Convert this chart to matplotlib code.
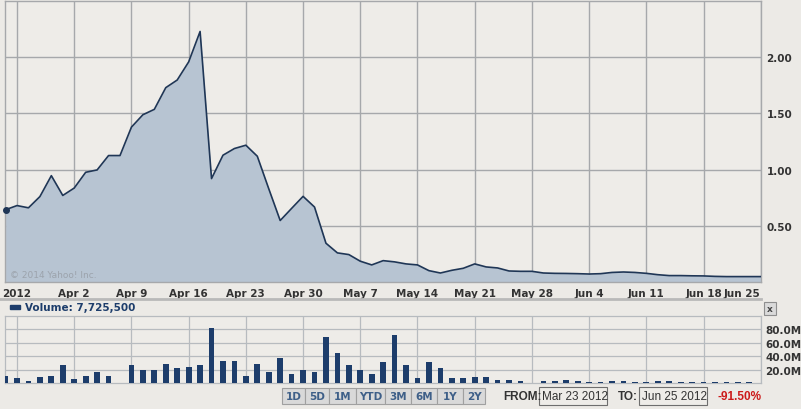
import numpy as np
import matplotlib.pyplot as plt
from matplotlib.patches import Rectangle
from matplotlib.lines import Line2D

# trading-day slots from Mar 23 2012 to Jun 25 2012
tick_pos = [1, 6, 11, 16, 21, 26, 31, 36, 41, 46, 51, 56, 61, 66]
tick_labels = ['2012', 'Apr 2', 'Apr 9', 'Apr 16', 'Apr 23', 'Apr 30', 'May 7',
               'May 14', 'May 21', 'May 28', 'Jun 4', 'Jun 11', 'Jun 18', 'Jun 25']

price = [0.643, 0.68, 0.66, 0.76, 0.946, 0.77, 0.836, 0.976, 0.997, 1.125,
         1.125, 1.378, 1.488, 1.536, 1.729, 1.797, 1.958, 2.229, 0.92, 1.128,
         1.1875, 1.217, 1.119, 0.83, 0.547, 0.655, 0.762, 0.667, 0.345, 0.259,
         0.244, 0.185, 0.152, 0.19, 0.179, 0.161, 0.152, 0.101, 0.080, 0.104,
         0.122, 0.161, 0.134, 0.125, 0.098, 0.095, 0.095, 0.08, 0.077, 0.076,
         0.074, 0.071, 0.074, 0.085, 0.089, 0.085, 0.077, 0.065, 0.057, 0.057,
         0.055, 0.054, 0.05, 0.048, 0.048, 0.048, 0.048]

# volume in millions (nan = market closed / no bar)
volume = [11, 8, 3.5, 9.5, 11, 27.5, 6.5, 11, 17, 11,
          np.nan, 27.5, 19, 19, 28.5, 23, 24.5, 27.5, 81.5, 33.5,
          33.5, 11, 28.5, 17, 38, 14, 19, 17, 68, 45.5,
          27.5, 19, 14, 32, 71, 27.5, 8, 32, 23, 8,
          8, 9.5, 9.5, 4, 5, 3.5, np.nan, 3.5, 3.5, 5,
          3.5, 1.5, 1.5, 2.5, 2.5, 1.5, 1, 2.5, 3.5, 2,
          1.5, 2, 1.5, 1, 1, 2, np.nan]

price_ticks = [0.5, 1.0, 1.5, 2.0]
vol_ticks = [20, 40, 60, 80]

W, H = 801, 410
bg = '#ECEAE6'
grid_c = '#A6A8AB'
navy = '#1D3D6B'
txt = '#333333'


def fx(px):
    return px / W


def fy(py):
    return 1 - py / H


fig = plt.figure(figsize=(W / 100, H / 100), dpi=100, facecolor=bg)

x = np.arange(len(price))

# price panel
ax = fig.add_axes([fx(5), fy(283), fx(761) - fx(5), fy(2) - fy(283)])
ax.set_facecolor('#EEECE8')
ax.fill_between(x, price, 0, color='#B7C4D2', lw=0, zorder=2)
ax.plot(x, price, color='#1F3656', lw=1.2, zorder=3)
ax.plot(x[0], price[0], 'o', color='#1F3656', ms=4, zorder=4, clip_on=False)
ax.set_xlim(-0.05, 66.02)
ax.set_ylim(0, 2.5)
ax.set_xticks(tick_pos)
ax.set_xticklabels(tick_labels, fontsize=7.5, fontweight='bold', color=txt)
ax.get_xticklabels()[-1].set_ha('right')
ax.get_xticklabels()[-1].set_x(66.02)
ax.yaxis.tick_right()
ax.set_yticks(price_ticks)
ax.set_yticklabels(['%.2f' % v for v in price_ticks], fontsize=7.5,
                   fontweight='bold', color=txt)
ax.tick_params(length=0, pad=4)
ax.grid(True, color=grid_c, lw=1.0, zorder=1)
for s in ax.spines.values():
    s.set_color(grid_c)
    s.set_linewidth(1.0)
ax.text(0.006, 0.018, '\u00a9 2014 Yahoo! Inc.', transform=ax.transAxes,
        fontsize=6.5, color='#9CA3AC', zorder=5)

# separator under the date labels
fig.add_artist(Line2D([0, fx(761)], [fy(300), fy(300)], color='#B9B9B9', lw=2))

# volume panel
vax = fig.add_axes([fx(5), fy(384), fx(761) - fx(5), fy(317) - fy(384)])
vax.set_facecolor('#EEECE8')
vax.bar(x, volume, width=0.5, color=navy, zorder=3)
vax.set_xlim(-0.05, 66.02)
vax.set_ylim(0, 100)
vax.set_xticks(tick_pos)
vax.set_xticklabels([])
vax.yaxis.tick_right()
vax.set_yticks(vol_ticks)
vax.set_yticklabels(['%.1fM' % v for v in vol_ticks], fontsize=7.5,
                    fontweight='bold', color=txt)
vax.tick_params(length=0, pad=3)
vax.grid(True, color='#B7BBBF', lw=0.9, zorder=1)
for s in vax.spines.values():
    s.set_color('#B7BBBF')
    s.set_linewidth(0.9)

# volume legend
fig.add_artist(Rectangle((fx(10), fy(310)), fx(10), 4 / H, color=navy))
fig.text(fx(25), fy(308), 'Volume: 7,725,500', fontsize=7.5, fontweight='bold',
         color=navy, va='center')

# close button
fig.add_artist(Rectangle((fx(764), fy(316)), fx(12), 13 / H, facecolor='#DADADA',
                         edgecolor='#8E8E8E', lw=0.8))
fig.text(fx(770), fy(309.5), 'x', fontsize=6.5, fontweight='bold', color='#444444',
         ha='center', va='center')

# range buttons
btn_labels = ['1D', '5D', '1M', 'YTD', '3M', '6M', '1Y', '2Y']
btn_edges = [282, 305, 329, 356, 385, 411, 437, 463, 485]
for i, lab in enumerate(btn_labels):
    x0, x1 = btn_edges[i], btn_edges[i + 1]
    fig.add_artist(Rectangle((fx(x0), fy(405)), fx(x1 - x0), 16 / H,
                             facecolor='#D9D9D9', edgecolor='#A0A0A0', lw=0.8))
    fig.text(fx((x0 + x1) / 2), fy(397.5), lab, fontsize=7.5, fontweight='bold',
             color='#3E5F88', ha='center', va='center')

ff = 'Liberation Sans'
fig.text(fx(503), fy(397.5), 'FROM:', fontsize=8.5, fontweight='bold', color=txt,
         va='center', family=ff)
fig.add_artist(Rectangle((fx(539), fy(406)), fx(68), 18 / H, facecolor='#EEECE8',
                         edgecolor='#6E6E6E', lw=0.8))
fig.text(fx(542), fy(397.5), 'Mar 23 2012', fontsize=8.5, color=txt, va='center',
         family=ff)
fig.text(fx(618), fy(397.5), 'TO:', fontsize=8.5, fontweight='bold', color=txt,
         va='center', family=ff)
fig.add_artist(Rectangle((fx(639), fy(406)), fx(68), 18 / H, facecolor='#EEECE8',
                         edgecolor='#6E6E6E', lw=0.8))
fig.text(fx(642), fy(397.5), 'Jun 25 2012', fontsize=8.5, color=txt, va='center',
         family=ff)
fig.text(fx(718), fy(397.5), '-91.50%', fontsize=8.5, fontweight='bold',
         color='#CC1A1A', va='center', family=ff)

fig.savefig('out.png', dpi=100, facecolor=bg)
